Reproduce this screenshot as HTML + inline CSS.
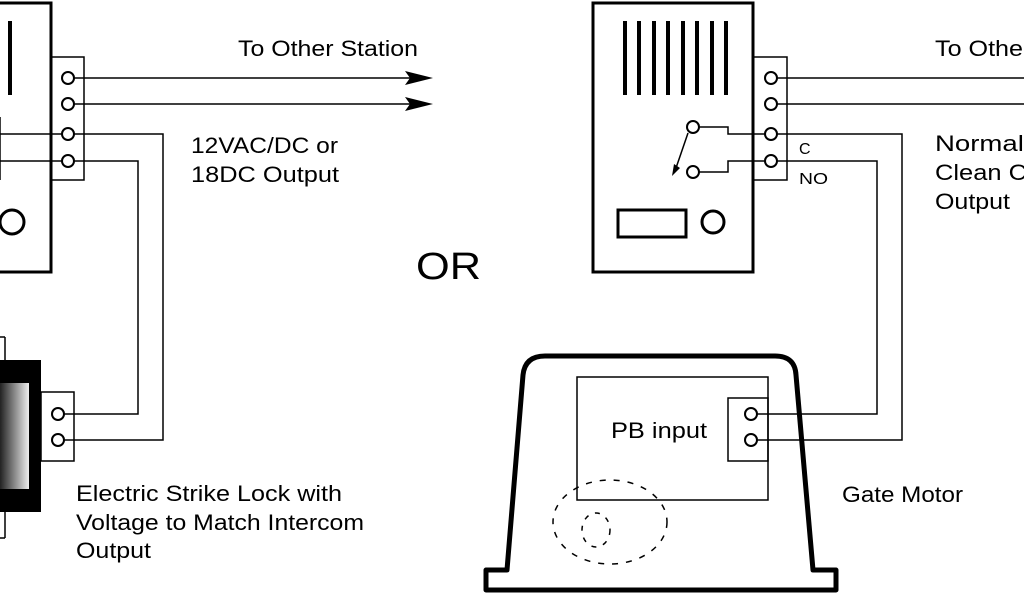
<!DOCTYPE html>
<html><head><style>
html,body{margin:0;padding:0;background:#fff;}
svg{display:block;}
text{font-family:"Liberation Sans",sans-serif;fill:#000;}
</style></head><body>
<svg width="1024" height="600" viewBox="0 0 1024 600" xmlns="http://www.w3.org/2000/svg">
<defs>
<linearGradient id="g" x1="0" x2="1" y1="0" y2="0">
<stop offset="0" stop-color="#222"/><stop offset="1" stop-color="#eee"/>
</linearGradient>
</defs>
<g fill="none" stroke="#000">
<rect x="-5" y="3" width="56" height="269" stroke-width="3"/>
<line x1="10" y1="21" x2="10" y2="95" stroke-width="4"/>
<circle cx="12" cy="222" r="12" stroke-width="3"/>
<rect x="51" y="57" width="33" height="123" stroke-width="1.5"/>
<g stroke-width="1.5">
<line x1="74" y1="78" x2="420" y2="78"/>
<line x1="74" y1="104" x2="420" y2="104"/>
<polyline points="0,134 62,134"/><polyline points="74,134 163,134 163,440 64,440"/>
<polyline points="0,161 62,161"/><polyline points="74,161 138,161 138,414 64,414"/>
<line x1="0" y1="117" x2="0" y2="180"/>
</g>
<g stroke-width="2">
<circle cx="68" cy="78" r="6" fill="#fff"/><circle cx="68" cy="104" r="6" fill="#fff"/>
<circle cx="68" cy="134" r="6" fill="#fff"/><circle cx="68" cy="161" r="6" fill="#fff"/>
</g>
</g>
<polygon points="405,71 433,78 405,85 410,78" fill="#000"/>
<polygon points="405,97 433,104 405,111 410,104" fill="#000"/>
<rect x="0" y="360" width="41" height="152" fill="#000"/>
<rect x="0" y="383" width="29" height="106" fill="url(#g)"/>
<g fill="none" stroke="#000" stroke-width="1.5">
<line x1="5" y1="337" x2="5" y2="360"/><line x1="5" y1="512" x2="5" y2="538"/>
<line x1="0" y1="337" x2="5" y2="337"/><line x1="0" y1="538" x2="5" y2="538"/>
<rect x="41" y="392" width="33" height="69"/>
<circle cx="58" cy="414" r="6" stroke-width="2" fill="#fff"/>
<circle cx="58" cy="440" r="6" stroke-width="2" fill="#fff"/>
</g>
<text x="191" y="153" font-size="22" textLength="147" lengthAdjust="spacingAndGlyphs">12VAC/DC or</text>
<text x="191" y="182" font-size="22" textLength="148" lengthAdjust="spacingAndGlyphs">18DC Output</text>
<text x="238" y="56" font-size="22" textLength="180" lengthAdjust="spacingAndGlyphs">To Other Station</text>
<text x="76" y="501" font-size="22" textLength="266" lengthAdjust="spacingAndGlyphs">Electric Strike Lock with</text>
<text x="76" y="530" font-size="22" textLength="288" lengthAdjust="spacingAndGlyphs">Voltage to Match Intercom</text>
<text x="76" y="558" font-size="22" textLength="75" lengthAdjust="spacingAndGlyphs">Output</text>
<text x="416" y="279" font-size="38" textLength="65" lengthAdjust="spacingAndGlyphs">OR</text>
<g fill="none" stroke="#000">
<rect x="593" y="3" width="160" height="269" stroke-width="3"/>
<g stroke-width="4">
<line x1="625" y1="21" x2="625" y2="95"/><line x1="639" y1="21" x2="639" y2="95"/>
<line x1="654" y1="21" x2="654" y2="95"/><line x1="668" y1="21" x2="668" y2="95"/>
<line x1="683" y1="21" x2="683" y2="95"/><line x1="697" y1="21" x2="697" y2="95"/>
<line x1="712" y1="21" x2="712" y2="95"/><line x1="726" y1="21" x2="726" y2="95"/>
</g>
<rect x="618" y="210" width="68" height="27" stroke-width="3"/>
<circle cx="713" cy="222" r="11" stroke-width="3"/>
<rect x="753" y="57" width="34" height="123" stroke-width="1.5"/>
<g stroke-width="1.5">
<line x1="777" y1="78" x2="1024" y2="78"/>
<line x1="777" y1="104" x2="1024" y2="104"/>
<polyline points="699,127 728,127 728,134 765,134"/>
<polyline points="699,172 728,172 728,161 765,161"/>
<polyline points="777,134 902,134 902,440 757,440"/>
<polyline points="777,161 877,161 877,414 757,414"/>
<line x1="688" y1="133" x2="676" y2="168"/>
</g>
<g stroke-width="2">
<circle cx="693" cy="127" r="6" fill="#fff"/><circle cx="693" cy="172" r="6" fill="#fff"/>
<circle cx="771" cy="78" r="6" fill="#fff"/><circle cx="771" cy="104" r="6" fill="#fff"/>
<circle cx="771" cy="134" r="6" fill="#fff"/><circle cx="771" cy="161" r="6" fill="#fff"/>
</g>
</g>
<polygon points="672,176 674,164 680,168" fill="#000"/>
<text x="799" y="154" font-size="16">C</text>
<text x="799" y="184" font-size="16" textLength="29" lengthAdjust="spacingAndGlyphs">NO</text>
<text x="935" y="56" font-size="22" textLength="88" lengthAdjust="spacingAndGlyphs">To Othe</text>
<text x="935" y="151" font-size="22" textLength="95" lengthAdjust="spacingAndGlyphs">Normall</text>
<text x="935" y="180" font-size="22" textLength="92" lengthAdjust="spacingAndGlyphs">Clean C</text>
<text x="935" y="209" font-size="22" textLength="75" lengthAdjust="spacingAndGlyphs">Output</text>
<g fill="none" stroke="#000">
<path d="M507,570 L523,375 Q525,356 545,356 L775,356 Q795,356 796,375 L813,570 L836,570 L836,590 L486,590 L486,570 Z" stroke-width="5" stroke-linejoin="round"/>
<rect x="577" y="377" width="191" height="123" stroke-width="1.5"/>
<rect x="728" y="398" width="40" height="63" stroke-width="1.5"/>
<circle cx="751" cy="414" r="6" stroke-width="2" fill="#fff"/>
<circle cx="751" cy="440" r="6" stroke-width="2" fill="#fff"/>
<ellipse cx="610" cy="522" rx="57" ry="42" stroke-width="1.5" stroke-dasharray="6,8"/>
<ellipse cx="596" cy="530" rx="14" ry="17" stroke-width="1.5" stroke-dasharray="5,7"/>
</g>
<text x="611" y="438" font-size="22" textLength="96" lengthAdjust="spacingAndGlyphs">PB input</text>
<text x="842" y="502" font-size="22" textLength="121" lengthAdjust="spacingAndGlyphs">Gate Motor</text>
</svg>
</body></html>
